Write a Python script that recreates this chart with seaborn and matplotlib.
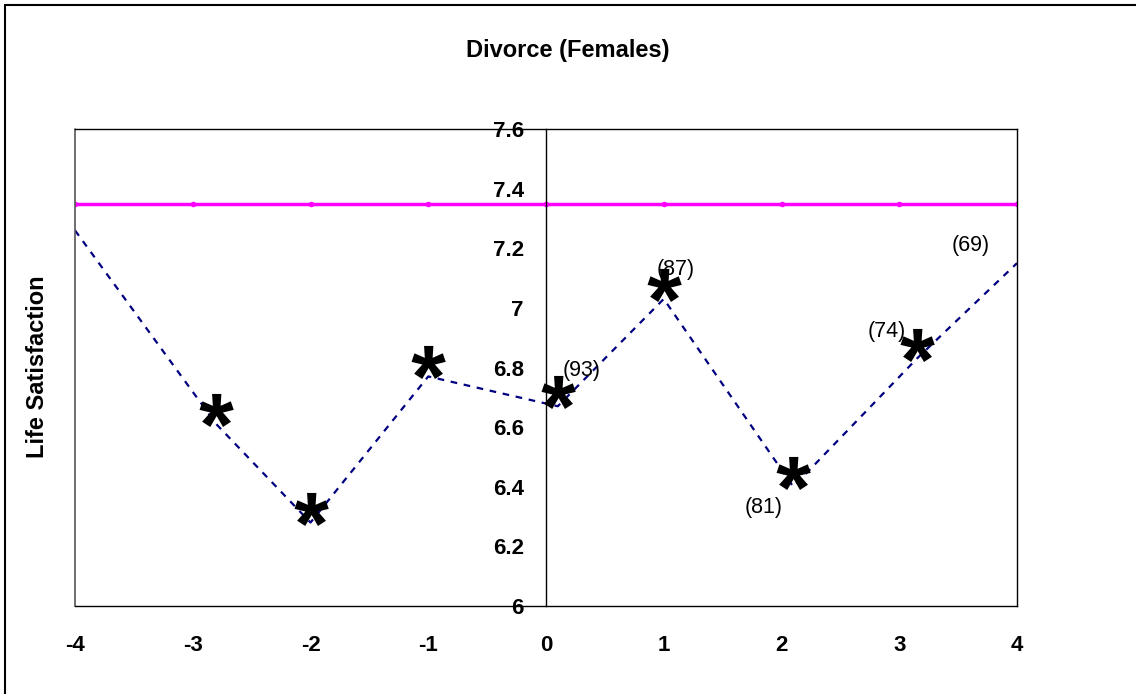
import numpy as np
import pandas as pd
import seaborn as sns
import matplotlib.pyplot as plt
from matplotlib.lines import Line2D
from matplotlib.textpath import TextPath
from matplotlib.font_manager import FontProperties
from matplotlib.path import Path

# data
years = [-4, -2.8, -2, -1, 0.1, 1, 2.1, 3.15, 4]
satisfaction = [7.26, 6.61, 6.28, 6.77, 6.67, 7.03, 6.40, 6.83, 7.15]
baseline_x = [-4, -3, -2, -1, 0, 1, 2, 3, 4]
baseline_y = [7.35] * 9
# sample sizes shown next to the points after the event
n_labels = ["(93)", "(87)", "(81)", "(74)", "(69)"]
n_label_x = [0.3, 1.1, 1.85, 2.89, 3.61]
n_label_y = [6.79, 7.13, 6.33, 6.92, 7.21]
y_ticks = [6, 6.2, 6.4, 6.6, 6.8, 7, 7.2, 7.4, 7.6]
x_ticks = [-4, -3, -2, -1, 0, 1, 2, 3, 4]

sns.set_theme(style="white")
plt.rcParams["font.family"] = ["Liberation Sans", "DejaVu Sans"]
plt.rcParams["text.color"] = "black"

W, H = 1136, 694
fig = plt.figure(figsize=(W / 100, H / 100), dpi=100)
ax = fig.add_axes([75 / W, 88 / H, 942 / W, 477 / H])
# y axis crosses at x = 0 (set before the ticks, it resets them)
ax.spines["left"].set_position(("data", 0))

df = pd.DataFrame({"year": years, "ls": satisfaction})
sns.lineplot(data=df, x="year", y="ls", ax=ax, color="#000080", lw=1.6, sort=False)
ax.lines[-1].set_dashes([3, 3])

base = pd.DataFrame({"year": baseline_x, "ls": baseline_y})
sns.lineplot(data=base, x="year", y="ls", ax=ax, color="#FF00FF", lw=2.5,
             marker="o", markersize=4, markeredgewidth=0)

# asterisk marker taken from the font, centred on the point
tp = TextPath((0, 0), "*", prop=FontProperties(family="Liberation Sans", weight="bold"), size=1)
v = tp.vertices
c = (v.min(axis=0) + v.max(axis=0)) / 2
star = Path(v - c, tp.codes)
ax.plot(years[1:-1], satisfaction[1:-1], linestyle="none", marker=star,
        markersize=44, color="black", markeredgewidth=0, zorder=5)

for t, x, y in zip(n_labels, n_label_x, n_label_y):
    ax.text(x, y, t, ha="center", va="center", fontsize=15.5, color="black")

ax.set_xlim(-4, 4)
ax.set_ylim(6, 7.6)
ax.set_xticks(x_ticks)
ax.set_xticklabels([str(t) for t in x_ticks], fontweight="bold", fontsize=16)
ax.set_yticks(y_ticks)
ax.set_yticklabels([f"{t:g}" for t in y_ticks], fontweight="bold", fontsize=16)
ax.set_xlabel("")
ax.set_ylabel("")

for s in ["top", "right", "bottom", "left"]:
    ax.spines[s].set_color("black")
    ax.spines[s].set_linewidth(1)
ax.axvline(-4, color="#555555", lw=1.2, clip_on=False)

ax.tick_params(axis="both", which="both", direction="out", colors="black")
ax.tick_params(axis="x", length=6, width=1, pad=15)
ax.tick_params(axis="y", length=5, width=1, pad=11)

fig.text(568 / W, 1 - 50 / H, "Divorce (Females)", ha="center", va="center",
         fontsize=17, fontweight="bold", color="black")
fig.text(38 / W, 1 - 367 / H, "Life Satisfaction", ha="center", va="center",
         rotation=90, fontsize=17, fontweight="bold", color="black")

# outer chart border
fig.add_artist(Line2D([5 / W, 5 / W], [0, 1 - 5 / H], transform=fig.transFigure, color="black", lw=1.5))
fig.add_artist(Line2D([5 / W, 1], [1 - 5 / H, 1 - 5 / H], transform=fig.transFigure, color="black", lw=1.5))

fig.savefig("out.png", dpi=100, facecolor="white")
